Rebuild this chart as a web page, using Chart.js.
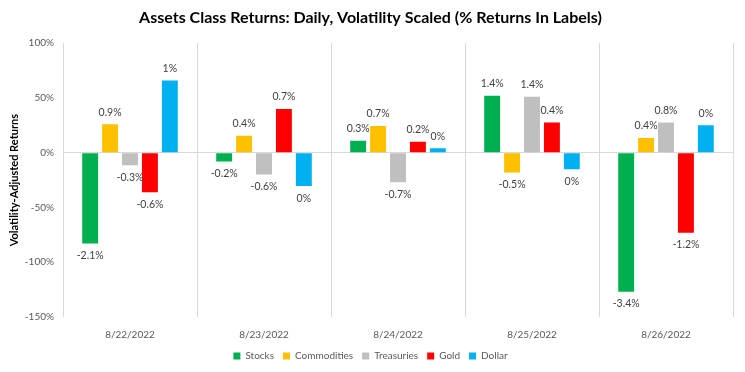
<!DOCTYPE html>
<html>
<head>
<meta charset="utf-8">
<script src="https://cdn.jsdelivr.net/npm/chart.js@4"></script>
<style>
  body { margin: 0; background: #fff; }
  #wrap { width: 745px; height: 372px; }
</style>
</head>
<body>
<div id="wrap"><canvas id="returns"></canvas></div>
<script>
const dates = ['8/22/2022', '8/23/2022', '8/24/2022', '8/25/2022', '8/26/2022'];
const seriesNames = ['Stocks', 'Commodities', 'Treasuries', 'Gold', 'Dollar'];
const seriesColors = ['#00B050', '#FFC000', '#BFBFBF', '#FF0000', '#00B0F0'];

// volatility-adjusted returns, in percent
const stocks = [-83, -8, 11, 52, -127];
const commodities = [26, 15.5, 24.5, -18, 13.5];
const treasuries = [-11.5, -20, -27, 51, 27.5];
const gold = [-36, 40, 10, 27.5, -73];
const dollar = [66, -30.5, 4, -15, 25];

// raw % returns shown as labels
const stocksLabels = ['-2.1%', '-0.2%', '0.3%', '1.4%', '-3.4%'];
const commoditiesLabels = ['0.9%', '0.4%', '0.7%', '-0.5%', '0.4%'];
const treasuriesLabels = ['-0.3%', '-0.6%', '-0.7%', '1.4%', '0.8%'];
const goldLabels = ['-0.6%', '0.7%', '0.2%', '0.4%', '-1.2%'];
const dollarLabels = ['1%', '0%', '0%', '0%', '0%'];

const yTicks = [100, 50, 0, -50, -100, -150];

const values = [stocks, commodities, treasuries, gold, dollar];
const labels = [stocksLabels, commoditiesLabels, treasuriesLabels, goldLabels, dollarLabels];

const fontFamily = 'Lato, "Open Sans", sans-serif';

const barLabels = {
  id: 'barLabels',
  afterDatasetsDraw(chart) {
    let ctx = chart.ctx;
    ctx.save();
    ctx.font = '10.5px ' + fontFamily;
    ctx.fillStyle = '#404040';
    ctx.textAlign = 'center';
    ctx.textBaseline = 'middle';
    chart.data.datasets.forEach((ds, i) => {
      let meta = chart.getDatasetMeta(i);
      meta.data.forEach((bar, j) => {
        let v = ds.data[j];
        let y = v >= 0 ? bar.y - 12 : bar.y + 12;
        ctx.fillText(labels[i][j], bar.x, y);
      });
    });
    ctx.restore();
  }
};

let datasets = [];
for(let i = 0; i < seriesNames.length; i++) {
  datasets.push({
    label: seriesNames[i],
    data: values[i],
    backgroundColor: seriesColors[i],
    categoryPercentage: 0.743,
    barPercentage: 0.8,
  });
}

const config = {
  type: 'bar',
  data: {
    labels: dates,
    datasets: datasets,
  },
  options: {
    responsive: true,
    maintainAspectRatio: false,
    animation: false,
    layout: {
      padding: {left: 8, right: 12, top: 6, bottom: 1}
    },
    plugins: {
      title: {
        display: true,
        text: 'Assets Class Returns: Daily, Volatility Scaled (% Returns In Labels)',
        color: '#000',
        font: {family: fontFamily, size: 16, weight: 'bold'},
        padding: {top: 2, bottom: 16}
      },
      legend: {
        position: 'bottom',
        labels: {
          boxWidth: 7,
          boxHeight: 7,
          padding: 9,
          color: '#595959',
          font: {family: fontFamily, size: 10}
        }
      },
      tooltip: {enabled: false}
    },
    scales: {
      x: {
        grid: {
          offset: true,
          color: '#d9d9d9',
          drawTicks: false,
        },
        border: {display: false},
        afterFit: (axis) => {
          axis.height = 25;
        },
        ticks: {
          color: '#595959',
          padding: 12,
          font: {family: fontFamily, size: 10}
        }
      },
      y: {
        min: -150,
        max: 100,
        afterBuildTicks: (axis) => {
          axis.ticks = yTicks.map(v => ({value: v}));
        },
        afterFit: (axis) => {
          axis.width = 55;
        },
        grid: {
          drawTicks: false,
          color: (c) => c.tick && c.tick.value === 0 ? '#d9d9d9' : 'rgba(0,0,0,0)'
        },
        border: {display: false},
        title: {
          display: true,
          text: 'Volatility-Adjusted Returns',
          color: '#000',
          font: {family: fontFamily, size: 11, weight: 'bold'},
          padding: {top: 0, bottom: 2}
        },
        ticks: {
          color: '#595959',
          padding: 9,
          font: {family: fontFamily, size: 10},
          callback: (v) => v + '%'
        }
      }
    }
  },
  plugins: [barLabels]
};

new Chart(document.getElementById('returns'), config);
</script>
</body>
</html>
